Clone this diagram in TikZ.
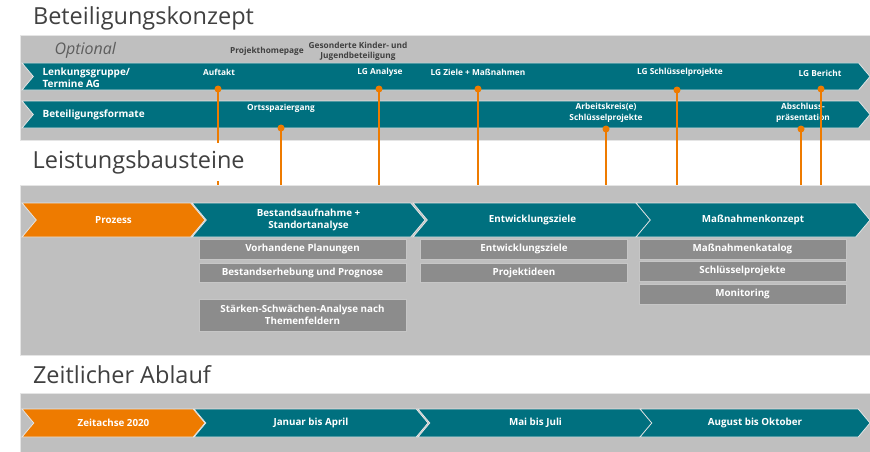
\documentclass[tikz,border=0pt]{standalone}
\usepackage{fontspec}
\setmainfont{Open Sans}
\usetikzlibrary{shapes.symbols}
\definecolor{petrol}{HTML}{00707F}
\definecolor{orangeLG}{HTML}{EE7B00}
\definecolor{bandgrey}{HTML}{BFBFBF}
\definecolor{boxgrey}{HTML}{8C8C8C}
\definecolor{titlegrey}{HTML}{404040}
\tikzset{
  band/.style={fill=bandgrey, draw=gray!20, line width=0.8pt},
  chevron/.style={signal, signal to=east, signal from=west, signal pointer angle=100,
    fill=petrol, draw=white!80!gray, line width=0.8pt, inner sep=0pt,
    text=white, font=\bfseries\fontsize{9.8}{12}\selectfont, align=center},
  startchev/.style={chevron, fill=orangeLG},
  item/.style={fill=boxgrey, draw=gray!45, line width=0.8pt, minimum width=207pt,
    inner sep=0pt, text=white, font=\bfseries\fontsize{9.8}{12.5}\selectfont, align=center},
  heading/.style={anchor=west, text=titlegrey, font=\fontsize{23.5}{28}\selectfont},
  lglabel/.style={text=white, font=\bfseries\fontsize{8.3}{10.5}\selectfont, align=center},
  rowlabel/.style={anchor=west, text=white, font=\bfseries\fontsize{10}{12}\selectfont, align=left},
  optlabel/.style={text=titlegrey, font=\bfseries\fontsize{8.3}{10}\selectfont, align=center},
  termin/.style={circle, fill=orangeLG, minimum size=7pt, inner sep=0pt},
  stem/.style={draw=orangeLG, line width=2pt},
}
\begin{document}
\begin{tikzpicture}[x=1pt,y=-1pt]
  \useasboundingbox[fill=white] (0,0) rectangle (870,452);

  % Beteiligungskonzept
  \node[heading] (tBeteiligung) at (29.5,18) {Beteiligungskonzept};
  \path[band] (20,35) rectangle (871,140);
  \node[anchor=west, text=titlegrey!85, font=\itshape\fontsize{16}{18}\selectfont] (optional) at (51,50) {Optional};
  \node[optlabel] (homepage) at (267,51) {Projekthomepage};
  \node[optlabel] (kinder) at (358,51) {Gesonderte Kinder- und\\Jugendbeteiligung};

  \node[chevron, minimum width=848pt, minimum height=27pt] (lenkung) at (446,76.5) {};
  \node[chevron, minimum width=848pt, minimum height=27pt] (formate) at (446,114.5) {};
  \node[rowlabel] (lenkungText) at (39,78) {Lenkungsgruppe/\\Termine AG};
  \node[rowlabel] (formateText) at (39,115) {Beteiligungsformate};

  \node[lglabel] (auftakt) at (219,72) {Auftakt};
  \node[lglabel] (analyse) at (380,72) {LG Analyse};
  \node[lglabel] (ziele) at (478,72) {LG Ziele + Maßnahmen};
  \node[lglabel] (schluessel) at (680,72) {LG Schlüsselprojekte};
  \node[lglabel] (bericht) at (820,73) {LG Bericht};
  \node[lglabel] (spaziergang) at (281,108) {Ortsspaziergang};
  \node[lglabel] (arbeitskreis) at (606,113) {Arbeitskreis(e)\\Schlüsselprojekte};
  \node[lglabel] (abschluss) at (803,113) {Abschluss-\\präsentation};

  \node[termin] (dAuftakt) at (218,89) {};
  \node[termin] (dAnalyse) at (379,89) {};
  \node[termin] (dZiele) at (478,89) {};
  \node[termin] (dSchluessel) at (677,90) {};
  \node[termin] (dBericht) at (821,89) {};
  \node[termin] (dSpaziergang) at (281,128) {};
  \node[termin] (dArbeitskreis) at (606,129) {};
  \node[termin] (dAbschluss) at (801,129) {};

  % Leistungsbausteine
  \coordinate (bandTop) at (0,185);
  \path[band] (20,185) rectangle (871,355);
  \foreach \d in {dAuftakt,dAnalyse,dZiele,dSchluessel,dBericht,dSpaziergang,dArbeitskreis,dAbschluss}
    \draw[stem] (\d.center) -- (\d |- bandTop);
  \node[heading, fill=white, minimum height=38pt, inner sep=3pt] (tLeistung) at (29.5,162) {Leistungsbausteine};

  \node[startchev, minimum width=183pt, minimum height=34pt] (prozess) at (113.5,220) {Prozess};
  \node[chevron, minimum width=233pt, minimum height=34pt] (bestand) at (308.5,220) {Bestandsaufnahme +\\Standortanalyse};
  \node[chevron, minimum width=239pt, minimum height=34pt] (entwicklung) at (532.5,220) {Entwicklungsziele};
  \node[chevron, minimum width=234pt, minimum height=34pt] (massnahmen) at (753,220) {Maßnahmenkonzept};

  \node[item, minimum height=20pt] (planungen) at (302.5,249) {Vorhandene Planungen};
  \node[item, minimum height=19pt] (erhebung) at (302.5,272.5) {Bestandserhebung und Prognose};
  \node[item, minimum height=32pt] (swot) at (302.5,315) {Stärken-Schwächen-Analyse nach\\Themenfeldern};
  \node[item, minimum height=20pt] (ziele2) at (524,249) {Entwicklungsziele};
  \node[item, minimum height=19pt] (ideen) at (524,272.5) {Projektideen};
  \node[item, minimum height=20pt] (katalog) at (742.5,249) {Maßnahmenkatalog};
  \node[item, minimum height=20pt] (projekte) at (742.5,271) {Schlüsselprojekte};
  \node[item, minimum height=20pt] (monitoring) at (742.5,294) {Monitoring};

  % Zeitlicher Ablauf
  \node[heading] (tZeit) at (29.5,375) {Zeitlicher Ablauf};
  \path[band] (20,393) rectangle (871,453);
  \node[startchev, minimum width=183pt, minimum height=28pt] (zeitachse) at (113.5,423) {Zeitachse 2020};
  \node[chevron, minimum width=234pt, minimum height=28pt] (jan) at (311,423) {Januar bis April};
  \node[chevron, minimum width=235pt, minimum height=28pt] (mai) at (535.5,423) {Mai bis Juli};
  \node[chevron, minimum width=230pt, minimum height=28pt] (aug) at (755,423) {August bis Oktober};
\end{tikzpicture}
\end{document}
